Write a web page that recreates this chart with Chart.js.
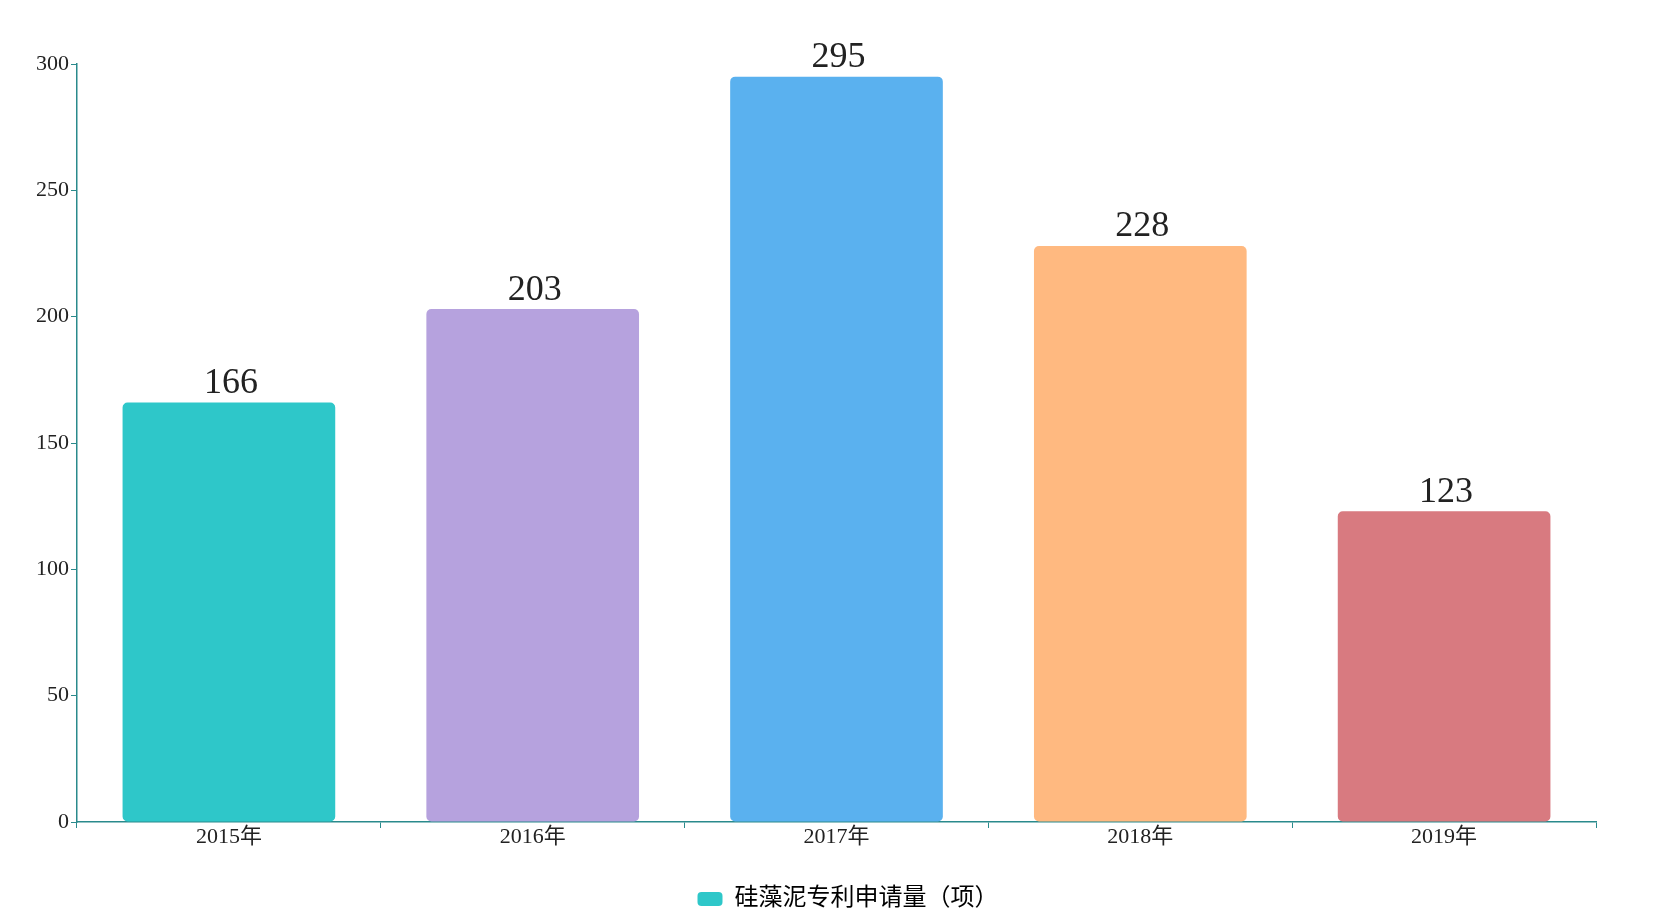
<!DOCTYPE html>
<html><head><meta charset="utf-8">
<script src="https://cdn.jsdelivr.net/npm/chart.js@4"></script>
<style>html,body{margin:0;padding:0;background:#fff}#wrap{width:1660px;height:916px}</style>
</head><body><div id="wrap"><canvas id="c" width="1660" height="916"></canvas></div>
<script>
const categories = ['2015年','2016年','2017年','2018年','2019年'];
const values = [166, 203, 295, 228, 123];
const colors = ['#2ec7c9','#b6a2de','#5ab1ef','#ffb980','#d87a80'];
const seriesName = '硅藻泥专利申请量（项）';
const yTicks = [0,50,100,150,200,250,300];
const axisColor = '#2a8a8c';
const fontFam = "'Liberation Serif','Noto Sans CJK SC',serif";

const labelPlugin = {
  id:'barLabels',
  afterLayout(chart){
    const lg = chart.legend;
    if (lg) { lg.left += 50; lg.right += 50; lg.top += 11; lg.bottom += 11; }
  },
  afterDatasetsDraw(chart){
    const ctx = chart.ctx;
    const meta = chart.getDatasetMeta(0);
    ctx.save();
    ctx.font = '36px ' + fontFam;
    ctx.fillStyle = '#222';
    ctx.textAlign = 'center';
    ctx.textBaseline = 'bottom';
    meta.data.forEach((bar,i)=>{
      ctx.fillText(String(values[i]), bar.x + 2, bar.y - 1);
    });
    ctx.restore();
  }
};

new Chart(document.getElementById('c'), {
  type:'bar',
  data:{labels:categories, datasets:[{label:seriesName, data:values, backgroundColor:colors,
    borderRadius:5, borderSkipped:false, categoryPercentage:0.7, barPercentage:1}]},
  options:{
    responsive:false, animation:false,
    layout:{padding:{top:64,right:64,left:0,bottom:6}},
    plugins:{
      tooltip:{enabled:false},
      legend:{position:'bottom', labels:{
        font:{size:24, family:fontFam}, color:'#222', boxWidth:25, boxHeight:14, useBorderRadius:true, borderRadius:4,
        padding:8,
        generateLabels(){ return [{text:seriesName, fillStyle:colors[0], strokeStyle:colors[0], lineWidth:0, borderRadius:4, datasetIndex:0}]; }
      }}
    },
    scales:{
      x:{
        grid:{drawOnChartArea:false, drawTicks:true, tickLength:6, color:axisColor, offset:true},
        border:{display:true, color:axisColor, width:1.5},
        ticks:{font:{size:22, family:fontFam}, color:'#222', padding:-4, maxRotation:0},
        afterFit(s){ s.height = 46; }
      },
      y:{
        min:0, max:300,
        afterBuildTicks(s){ s.ticks = yTicks.map(v=>({value:v})); },
        grid:{drawOnChartArea:false, drawTicks:true, tickLength:6, color:axisColor},
        border:{display:true, color:axisColor, width:1.5},
        ticks:{font:{size:22, family:fontFam}, color:'#222', padding:2},
        afterFit(s){ s.width = 77; }
      }
    }
  },
  plugins:[labelPlugin]
});
</script></body></html>
